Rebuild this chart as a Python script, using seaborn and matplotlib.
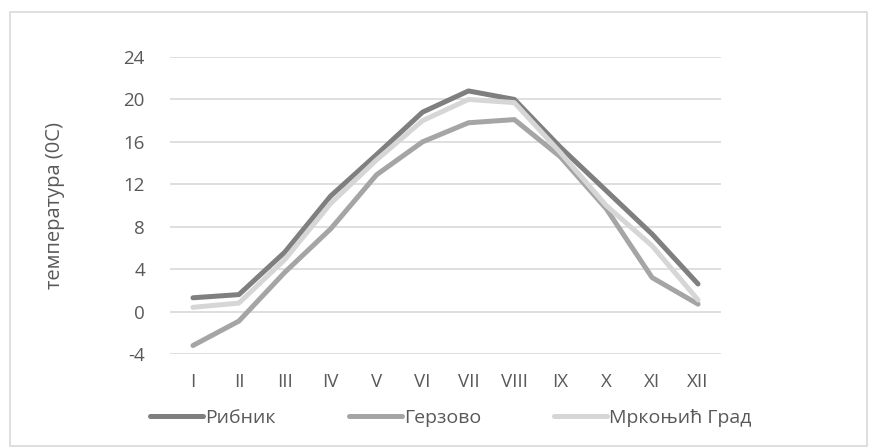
import matplotlib
matplotlib.use("Agg")
import matplotlib.pyplot as plt
import seaborn as sns
import pandas as pd
from matplotlib.patches import Rectangle

months = ["I", "II", "III", "IV", "V", "VI", "VII", "VIII", "IX", "X", "XI", "XII"]
ribnik = [1.3, 1.6, 5.6, 10.9, 14.8, 18.8, 20.8, 20.0, 15.5, 11.4, 7.3, 2.6]
gerzovo = [-3.2, -0.9, 3.7, 7.8, 12.9, 16.0, 17.8, 18.1, 14.6, 9.7, 3.2, 0.7]
mrkonjic = [0.4, 0.8, 4.9, 10.2, 14.3, 18.0, 20.0, 19.7, 15.0, 10.0, 6.2, 1.1]
series_names = ["Рибник", "Герзово", "Мркоњић Град"]
y_ticks = [-4, 0, 4, 8, 12, 16, 20, 24]
y_label = "температура (0C)"

colors = ["#7f7f7f", "#a5a5a5", "#d6d6d6"]

df = pd.DataFrame({"month": months * 3,
                   "value": ribnik + gerzovo + mrkonjic,
                   "series": [series_names[0]] * 12 + [series_names[1]] * 12 + [series_names[2]] * 12})
df["x"] = list(range(12)) * 3

sns.set_theme(style="white")
plt.rcParams["font.family"] = ["Open Sans", "DejaVu Sans"]
plt.rcParams["axes.unicode_minus"] = False

fig = plt.figure(figsize=(8.69, 4.48), dpi=100)
ax = fig.add_axes([170 / 869, 1 - 354 / 448, 551 / 869, (354 - 57) / 448])

sns.lineplot(data=df, x="x", y="value", hue="series", palette=colors,
             linewidth=3.6, ax=ax, sort=False, legend=True)
for ln in ax.lines:
    ln.set_solid_capstyle("round")
    ln.set_solid_joinstyle("round")

ax.set_xlim(-0.5, 11.5)
ax.set_ylim(-4, 24)
ax.set_yticks(y_ticks)
ax.set_xticks(range(12))
ax.set_xticklabels(months)
ax.yaxis.grid(True, color="#d9d9d9", linewidth=1.2)
ax.set_axisbelow(True)
for s in ax.spines.values():
    s.set_visible(False)
ax.tick_params(axis="both", length=0, labelsize=13.5, colors="#595959")
ax.tick_params(axis="y", pad=18)
ax.tick_params(axis="x", pad=14)
ax.set_xlabel("")
ax.set_ylabel(y_label, fontsize=14.5, color="#595959", labelpad=42)

leg = ax.legend(loc="upper left", bbox_to_anchor=(-0.05, -0.16), ncol=3, frameon=False,
                fontsize=14, handlelength=2.73, handletextpad=0.1, columnspacing=3.75,
                borderaxespad=0)
for t in leg.get_texts():
    t.set_color("#595959")
for h in leg.get_lines():
    h.set_linewidth(3.6)

fig.patches.append(Rectangle((10 / 869, 2 / 448), 857 / 869, 434 / 448, transform=fig.transFigure,
                             fill=False, edgecolor="#d9d9d9", linewidth=1.2))

fig.savefig("out.png", dpi=100)
